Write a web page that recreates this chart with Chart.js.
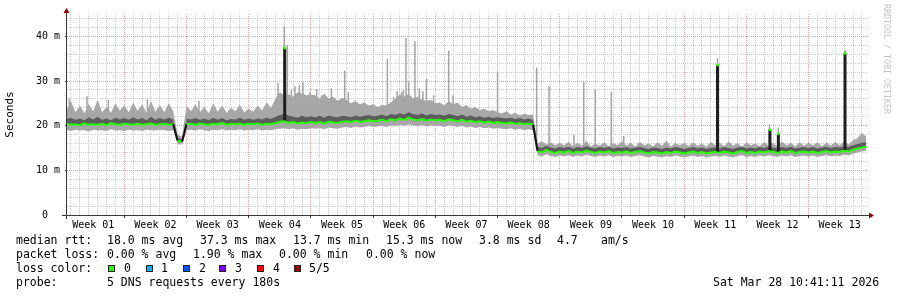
<!DOCTYPE html>
<html>
<head>
<meta charset="utf-8">
<script src="https://cdn.jsdelivr.net/npm/chart.js@4.4.1/dist/chart.umd.min.js"></script>
<style>
  html, body { margin: 0; padding: 0; background: #fff; }
  #wrap { position: relative; width: 897px; height: 297px; overflow: hidden; }
  canvas { position: absolute; left: 0; top: 0; }
  .t { position: absolute; font-family: 'DejaVu Sans Mono', monospace; font-size: 11.5px; line-height: 14px; white-space: pre; color: #000; }
  .box { position: absolute; top: 265px; width: 7px; height: 7px; box-sizing: border-box; border: 1px solid #222; }
  #wm { position: absolute; left: 882px; top: 4px; writing-mode: vertical-rl; font-family: 'DejaVu Sans Mono', monospace; font-size: 8.3px; line-height: 9px; color: #c4c4c4; }
</style>
</head>
<body>
<div id="wrap">
  <canvas id="myChart" width="897" height="297"></canvas>
  <div id="wm">RRDTOOL / TOBI OETIKER</div>

  <div class="t" style="top:233px;left:16px">median rtt:</div>
  <div class="t" style="top:233px;left:107px">18.0 ms avg</div>
  <div class="t" style="top:233px;left:200px">37.3 ms max</div>
  <div class="t" style="top:233px;left:293px">13.7 ms min</div>
  <div class="t" style="top:233px;left:386px">15.3 ms now</div>
  <div class="t" style="top:233px;left:479px">3.8 ms sd</div>
  <div class="t" style="top:233px;left:557px">4.7</div>
  <div class="t" style="top:233px;left:601px">am/s</div>

  <div class="t" style="top:247px;left:16px">packet loss:</div>
  <div class="t" style="top:247px;left:107px">0.00 % avg</div>
  <div class="t" style="top:247px;left:193px">1.90 % max</div>
  <div class="t" style="top:247px;left:279px">0.00 % min</div>
  <div class="t" style="top:247px;left:366px">0.00 % now</div>

  <div class="t" style="top:261px;left:16px">loss color:</div>
  <div class="box" style="left:108px;background:#26ff00"></div><div class="t" style="top:261px;left:124px">0</div>
  <div class="box" style="left:146px;background:#00b8ff"></div><div class="t" style="top:261px;left:161px">1</div>
  <div class="box" style="left:183px;background:#0059ff"></div><div class="t" style="top:261px;left:199px">2</div>
  <div class="box" style="left:219px;background:#7e00ff"></div><div class="t" style="top:261px;left:235px">3</div>
  <div class="box" style="left:257px;background:#ff0000"></div><div class="t" style="top:261px;left:273px">4</div>
  <div class="box" style="left:294px;background:#a10000"></div><div class="t" style="top:261px;left:309px">5/5</div>

  <div class="t" style="top:275px;left:16px">probe:</div>
  <div class="t" style="top:275px;left:107px">5 DNS requests every 180s</div>
  <div class="t" style="top:275px;left:713px">Sat Mar 28 10:41:11 2026</div>
</div>
<script>
// muestras cada medio dia, empezando en el dia 0.5
const firstDay = 0.5;
const stepDay = 0.5;

const weekLabels = ["Week 01", "Week 02", "Week 03", "Week 04", "Week 05", "Week 06", "Week 07",
  "Week 08", "Week 09", "Week 10", "Week 11", "Week 12", "Week 13"];

// mediana (ms), una fila por semana
const median = [
  20.4, 20.2, 20.3, 20.1, 20.5, 20.2, 20.3, 20.2, 20.4, 20.1, 20.6, 20.3, 20.2, 20.4,
  20.3, 20.2, 20.4, 20.2, 20.3, 20.5, 20.2, 20.3, 20.4, 20.2, 20.3, 16.6, 16.4, 20.3,
  20.4, 20.2, 20.5, 20.3, 20.2, 20.4, 20.3, 20.6, 20.2, 20.4, 20.3, 20.5, 20.2, 20.4,
  20.3, 20.5, 20.2, 20.4, 20.3, 20.6, 20.8, 21.0, 20.6, 20.8, 20.5, 20.7, 20.6, 20.8,
  20.6, 20.8, 20.5, 20.9, 20.7, 20.6, 20.9, 21.0, 20.8, 21.1, 20.9, 21.0, 21.2, 21.0,
  21.1, 21.3, 21.0, 21.4, 21.2, 21.6, 21.3, 21.8, 21.4, 21.2, 21.5, 21.1, 21.4, 21.2,
  21.3, 21.0, 21.4, 21.2, 21.0, 21.3, 20.9, 21.1, 20.8, 21.0, 20.7, 20.9, 20.6, 20.8,
  20.6, 20.5, 20.7, 20.4, 20.6, 20.3, 20.5, 20.2, 14.3, 14.0, 14.6, 14.1, 13.9, 14.2,
  14.0, 14.3, 13.9, 14.2, 14.0, 14.4, 14.1, 13.9, 14.2, 14.0, 14.3, 13.9, 14.1, 14.0,
  14.2, 13.9, 14.1, 14.3, 14.0, 13.8, 14.1, 14.0, 13.8, 14.1, 13.9, 14.2, 14.0, 13.8,
  14.0, 14.2, 13.9, 14.1, 13.8, 14.0, 14.1, 13.9, 14.2, 14.0, 13.8, 14.1, 14.3, 13.9,
  14.1, 13.9, 14.2, 14.0, 14.3, 14.1, 13.9, 14.2, 14.0, 14.3, 13.9, 14.1, 14.2, 14.0,
  14.2, 13.9, 14.1, 14.3, 14.0, 14.2, 14.1, 14.4, 14.2, 14.6, 14.9, 15.1, 15.3
];

// borde superior del humo claro
const smokeHi = [
  23.5, 25.5, 23.0, 24.5, 22.8, 24.8, 23.2, 25.8, 23.0, 24.2, 22.9, 25.0, 23.4, 24.6,
  23.0, 25.2, 23.3, 24.8, 22.9, 25.5, 23.1, 24.6, 23.0, 25.0, 23.2, 18.0, 17.5, 24.5,
  23.2, 24.8, 23.0, 24.2, 22.8, 25.0, 23.1, 24.5, 22.9, 24.0, 23.2, 24.7, 23.0, 23.8,
  23.1, 24.5, 23.4, 25.2, 24.0, 26.0, 27.5, 26.8, 27.0, 26.5, 27.5, 27.2, 26.8, 27.0,
  26.8, 26.0, 27.2, 26.0, 26.5, 25.5, 26.2, 25.8, 25.0, 25.5, 24.8, 25.2, 24.5, 24.8,
  24.2, 24.6, 24.5, 25.2, 26.0, 27.0, 26.5, 27.2, 26.0, 26.5, 25.8, 25.5, 25.8, 25.0,
  25.2, 24.5, 25.5, 24.8, 25.2, 24.2, 24.6, 23.8, 24.2, 23.5, 23.8, 23.2, 23.5, 23.0,
  22.8, 23.2, 22.5, 22.9, 22.3, 22.7, 22.4, 22.5, 16.0, 16.5, 15.8, 16.3, 15.6, 16.2,
  15.6, 16.4, 15.4, 16.2, 15.5, 16.6, 15.3, 16.0, 15.5, 16.3, 15.4, 16.1, 15.6, 16.5,
  15.5, 16.2, 15.3, 16.4, 15.6, 16.0, 15.4, 16.3, 15.5, 16.6, 15.3, 16.1, 15.6, 16.2,
  15.4, 16.3, 15.5, 16.0, 15.3, 16.4, 15.6, 16.2, 15.4, 16.5, 15.5, 16.1, 15.3, 16.3,
  15.6, 16.0, 15.4, 16.4, 15.5, 16.2, 15.3, 16.5, 15.6, 16.1, 15.4, 16.3, 15.5, 16.2,
  15.6, 16.3, 15.4, 16.2, 15.5, 16.4, 15.6, 16.5, 15.8, 16.8, 17.2, 18.4, 17.5
];

// borde superior del humo oscuro
const smokeDark = [
  21.5, 21.8, 21.3, 21.6, 21.2, 21.9, 21.4, 22.0, 21.3, 21.6, 21.2, 21.8, 21.4, 21.7,
  21.3, 21.9, 21.4, 21.7, 21.2, 22.0, 21.3, 21.7, 21.4, 21.8, 21.3, 17.2, 16.9, 21.6,
  21.4, 21.7, 21.3, 21.6, 21.2, 21.8, 21.3, 21.7, 21.2, 21.5, 21.4, 21.8, 21.3, 21.6,
  21.3, 21.6, 21.4, 21.8, 21.5, 22.0, 22.4, 22.6, 22.3, 22.0, 21.8, 22.2, 21.9, 22.1,
  21.9, 22.2, 21.8, 22.3, 22.0, 21.9, 22.2, 22.1, 21.9, 22.3, 22.0, 22.2, 22.4, 22.1,
  22.2, 22.5, 22.1, 22.6, 22.4, 22.8, 22.5, 23.0, 22.6, 22.4, 22.7, 22.3, 22.6, 22.4,
  22.5, 22.2, 22.6, 22.4, 22.1, 22.5, 22.0, 22.3, 21.9, 22.1, 21.8, 22.0, 21.7, 21.9,
  21.7, 21.6, 21.8, 21.5, 21.7, 21.4, 21.6, 21.3, 15.2, 15.0, 15.5, 15.1, 14.9, 15.2,
  15.0, 15.3, 14.9, 15.2, 15.0, 15.4, 15.1, 14.9, 15.2, 15.0, 15.3, 14.9, 15.1, 15.0,
  15.2, 14.9, 15.1, 15.3, 15.0, 14.8, 15.1, 15.0, 14.8, 15.1, 14.9, 15.2, 15.0, 14.8,
  15.0, 15.2, 14.9, 15.1, 14.8, 15.0, 15.1, 14.9, 15.2, 15.0, 14.8, 15.1, 15.3, 14.9,
  15.1, 14.9, 15.2, 15.0, 15.3, 15.1, 14.9, 15.2, 15.0, 15.3, 14.9, 15.1, 15.2, 15.0,
  15.2, 14.9, 15.1, 15.3, 15.0, 15.2, 15.1, 15.4, 15.2, 15.6, 15.9, 16.2, 16.3
];

// borde inferior del humo
const smokeLo = [
  19.0, 18.8, 19.1, 18.9, 19.0, 18.7, 19.1, 18.9, 19.0, 18.8, 19.2, 18.9, 19.0, 18.8,
  19.1, 18.9, 19.0, 18.8, 19.1, 19.0, 18.9, 19.1, 19.0, 18.8, 19.0, 15.9, 15.7, 19.0,
  19.1, 18.9, 19.2, 19.0, 18.8, 19.1, 19.0, 19.2, 18.9, 19.1, 19.0, 19.2, 18.9, 19.1,
  19.0, 19.2, 18.9, 19.1, 19.0, 19.2, 19.3, 19.4, 19.2, 19.4, 19.1, 19.3, 19.2, 19.4,
  19.3, 19.5, 19.2, 19.6, 19.4, 19.3, 19.6, 19.7, 19.5, 19.8, 19.6, 19.7, 19.9, 19.7,
  19.8, 20.0, 19.7, 20.1, 19.9, 20.2, 20.0, 20.3, 20.1, 19.9, 20.2, 19.8, 20.1, 19.9,
  20.0, 19.7, 20.1, 19.9, 19.7, 20.0, 19.6, 19.8, 19.5, 19.7, 19.4, 19.6, 19.3, 19.5,
  19.3, 19.2, 19.4, 19.1, 19.3, 19.0, 19.2, 18.9, 13.4, 13.1, 13.6, 13.2, 13.0, 13.3,
  13.1, 13.4, 13.0, 13.3, 13.1, 13.5, 13.2, 13.0, 13.3, 13.1, 13.4, 13.0, 13.2, 13.1,
  13.3, 13.0, 13.2, 13.4, 13.1, 12.9, 13.2, 13.1, 12.9, 13.2, 13.0, 13.3, 13.1, 12.9,
  13.1, 13.3, 13.0, 13.2, 12.9, 13.1, 13.2, 13.0, 13.3, 13.1, 12.9, 13.2, 13.4, 13.0,
  13.2, 13.0, 13.3, 13.1, 13.4, 13.2, 13.0, 13.3, 13.1, 13.4, 13.0, 13.2, 13.3, 13.1,
  13.3, 13.0, 13.2, 13.4, 13.1, 13.3, 13.2, 13.5, 13.3, 13.7, 14.0, 14.2, 14.4
];

// picos sueltos del humo (dia, ms)
const spikeDays = [0.8, 2.8, 5.2, 9.6, 15.4, 24.3, 25.0, 25.35, 25.8, 26.2, 26.7, 27.1, 27.9, 28.65,
  29.2, 30.3, 31.8, 32.2, 36.6, 37.3, 37.7, 38.2, 38.4, 38.7, 39.0, 39.7, 40.2, 40.6, 41.0, 41.8,
  43.5, 44.0, 49.0, 53.4, 54.8, 57.6, 58.7, 60.0, 61.8, 63.2, 73.75, 79.6, 80.6, 88.1];
const spikeTops = [26.0, 26.6, 25.8, 25.9, 25.6, 29.6, 42.2, 38.1, 28.0, 28.8, 29.1, 29.7, 27.6, 28.2,
  26.8, 28.4, 32.3, 27.5, 34.9, 26.5, 27.7, 27.5, 28.0, 39.6, 29.9, 38.9, 28.4, 27.7, 30.5, 26.8,
  36.8, 26.8, 32.1, 33.0, 28.8, 17.9, 29.7, 28.0, 27.6, 17.7, 35.1, 20.4, 19.6, 37.0];

// picos de la mediana
const peakDays = [25.05, 73.75, 79.65, 80.6, 88.1];
const peakTops = [37.4, 33.6, 19.1, 18.2, 36.2];

const yTickValues = [0, 2, 4, 6, 8, 10, 12, 14, 16, 18, 20, 22, 24, 26, 28, 30, 32, 34, 36, 38, 40, 42, 44];

const minorGrid = "#cbcbcb";
const majorGrid = "#eb9a9a";

const toPoints = (arr) => arr.map((v, i) => ({ x: firstDay + i * stepDay, y: v }));
const valueAt = (arr, d) => arr[Math.min(arr.length - 1, Math.max(0, Math.round((d - firstDay) / stepDay)))];
// cada pico es un segmento vertical desde la base hasta el valor, cortado con null
const spikeLines = (days, tops, baseArr, drop) =>
  days.flatMap((d, i) => [{ x: d, y: valueAt(baseArr, d) - drop }, { x: d, y: tops[i] }, { x: d, y: null }]);

// ticks del eje x: un dia cada uno, mas el centro de cada semana para la etiqueta
const xTickValues = [];
for (let d = 1; d <= 90; d++) xTickValues.push(d);
weekLabels.forEach((_, k) => xTickValues.push(k * 7 + 3.5));
xTickValues.sort((a, b) => a - b);

// ejes con flechas, como en rrdtool
const ejes = {
  id: "ejes",
  afterDraw(chart) {
    const { ctx, chartArea: a } = chart;
    ctx.save();
    ctx.strokeStyle = "#3a3a3a";
    ctx.lineWidth = 1;
    ctx.beginPath();
    ctx.moveTo(a.left - 0.5, a.bottom + 4);
    ctx.lineTo(a.left - 0.5, a.top - 3);
    ctx.moveTo(a.left - 5, a.bottom + 0.5);
    ctx.lineTo(a.right + 1, a.bottom + 0.5);
    ctx.stroke();
    ctx.fillStyle = "#8b0000";
    ctx.beginPath();
    ctx.moveTo(a.left - 0.5, a.top - 6);
    ctx.lineTo(a.left - 3.5, a.top - 1);
    ctx.lineTo(a.left + 2.5, a.top - 1);
    ctx.closePath();
    ctx.fill();
    ctx.beginPath();
    ctx.moveTo(a.right + 5, a.bottom + 0.5);
    ctx.lineTo(a.right, a.bottom - 2.5);
    ctx.lineTo(a.right, a.bottom + 3.5);
    ctx.closePath();
    ctx.fill();
    ctx.restore();
  }
};

const chartDOM = document.getElementById("myChart");
const myChart = new Chart(chartDOM, {
  type: "line",
  data: {
    datasets: [
      { data: toPoints(smokeLo), borderWidth: 0, pointRadius: 0, fill: false, order: 10 },
      { data: toPoints(smokeHi), borderWidth: 0, pointRadius: 0, fill: { target: 0 }, backgroundColor: "#a7a7a7", order: 9 },
      { data: spikeLines(spikeDays, spikeTops, smokeHi, 1), borderColor: "#a3a3a3", borderWidth: 1.5, pointRadius: 0, spanGaps: false, fill: false, order: 8 },
      { data: toPoints(smokeDark), borderWidth: 0, pointRadius: 0, fill: { target: 5 }, backgroundColor: "#5c5c5c", order: 7 },
      { data: spikeLines(peakDays, peakTops, median, 0), borderColor: "#1e1e1e", borderWidth: 3, pointRadius: 0, spanGaps: false, fill: false, order: 3 },
      {
        data: toPoints(median), borderColor: "#26ff00", borderWidth: 2, pointRadius: 0, fill: false, order: 2,
        segment: { borderColor: (c) => Math.abs(c.p1.parsed.y - c.p0.parsed.y) > 2 ? "#111111" : "#26ff00" }
      },
      {
        data: peakDays.map((d, i) => ({ x: d, y: peakTops[i] })), showLine: false,
        pointRadius: 1.5, pointBackgroundColor: "#26ff00", pointBorderWidth: 0, order: 1
      }
    ]
  },
  options: {
    responsive: false,
    animation: false,
    layout: { padding: { left: 0, right: 28, top: 14, bottom: 0 } },
    plugins: { legend: { display: false }, tooltip: { enabled: false } },
    elements: { line: { tension: 0 } },
    scales: {
      x: {
        type: "linear",
        min: 0.55,
        max: 90.8,
        offset: false,
        afterBuildTicks: (s) => { s.ticks = xTickValues.map((v) => ({ value: v })); },
        afterFit: (s) => { s.height = 82; },
        ticks: {
          autoSkip: false,
          maxRotation: 0,
          padding: 1,
          color: "#000",
          font: { family: "'DejaVu Sans Mono'", size: 10 },
          callback: (v) => (v % 1 ? weekLabels[(v - 3.5) / 7] : "")
        },
        grid: {
          offset: false,
          lineWidth: 1,
          tickLength: 3,
          color: (c) => {
            const v = c.tick ? c.tick.value : 0;
            if (v % 1) return "rgba(0,0,0,0)";
            return v % 7 === 0 ? majorGrid : minorGrid;
          },
          tickColor: (c) => {
            const v = c.tick ? c.tick.value : 0;
            return v % 7 === 0 ? "#3a3a3a" : "rgba(0,0,0,0)";
          }
        },
        border: { display: false, dash: [1, 1] }
      },
      y: {
        min: 0,
        max: 45,
        afterBuildTicks: (s) => { s.ticks = yTickValues.map((v) => ({ value: v })); },
        afterFit: (s) => { s.width = 67; },
        title: {
          display: true,
          text: "Seconds",
          color: "#000",
          font: { family: "'DejaVu Sans Mono'", size: 11 },
          padding: { top: 4, bottom: 0 }
        },
        ticks: {
          autoSkip: false,
          padding: 5,
          color: "#000",
          font: { family: "'DejaVu Sans Mono'", size: 10 },
          callback: (v) => (v % 10 === 0 ? (v === 0 ? "0  " : v + " m") : "")
        },
        grid: {
          lineWidth: 1,
          tickLength: 2,
          color: (c) => {
            const v = c.tick ? c.tick.value : 0;
            if (v === 0) return "rgba(0,0,0,0)";
            return v % 10 === 0 ? majorGrid : minorGrid;
          },
          tickColor: (c) => {
            const v = c.tick ? c.tick.value : 1;
            return v % 10 === 0 ? "#3a3a3a" : "rgba(0,0,0,0)";
          }
        },
        border: { display: false, dash: [1, 1] }
      }
    }
  },
  plugins: [ejes]
});
</script>
</body>
</html>
